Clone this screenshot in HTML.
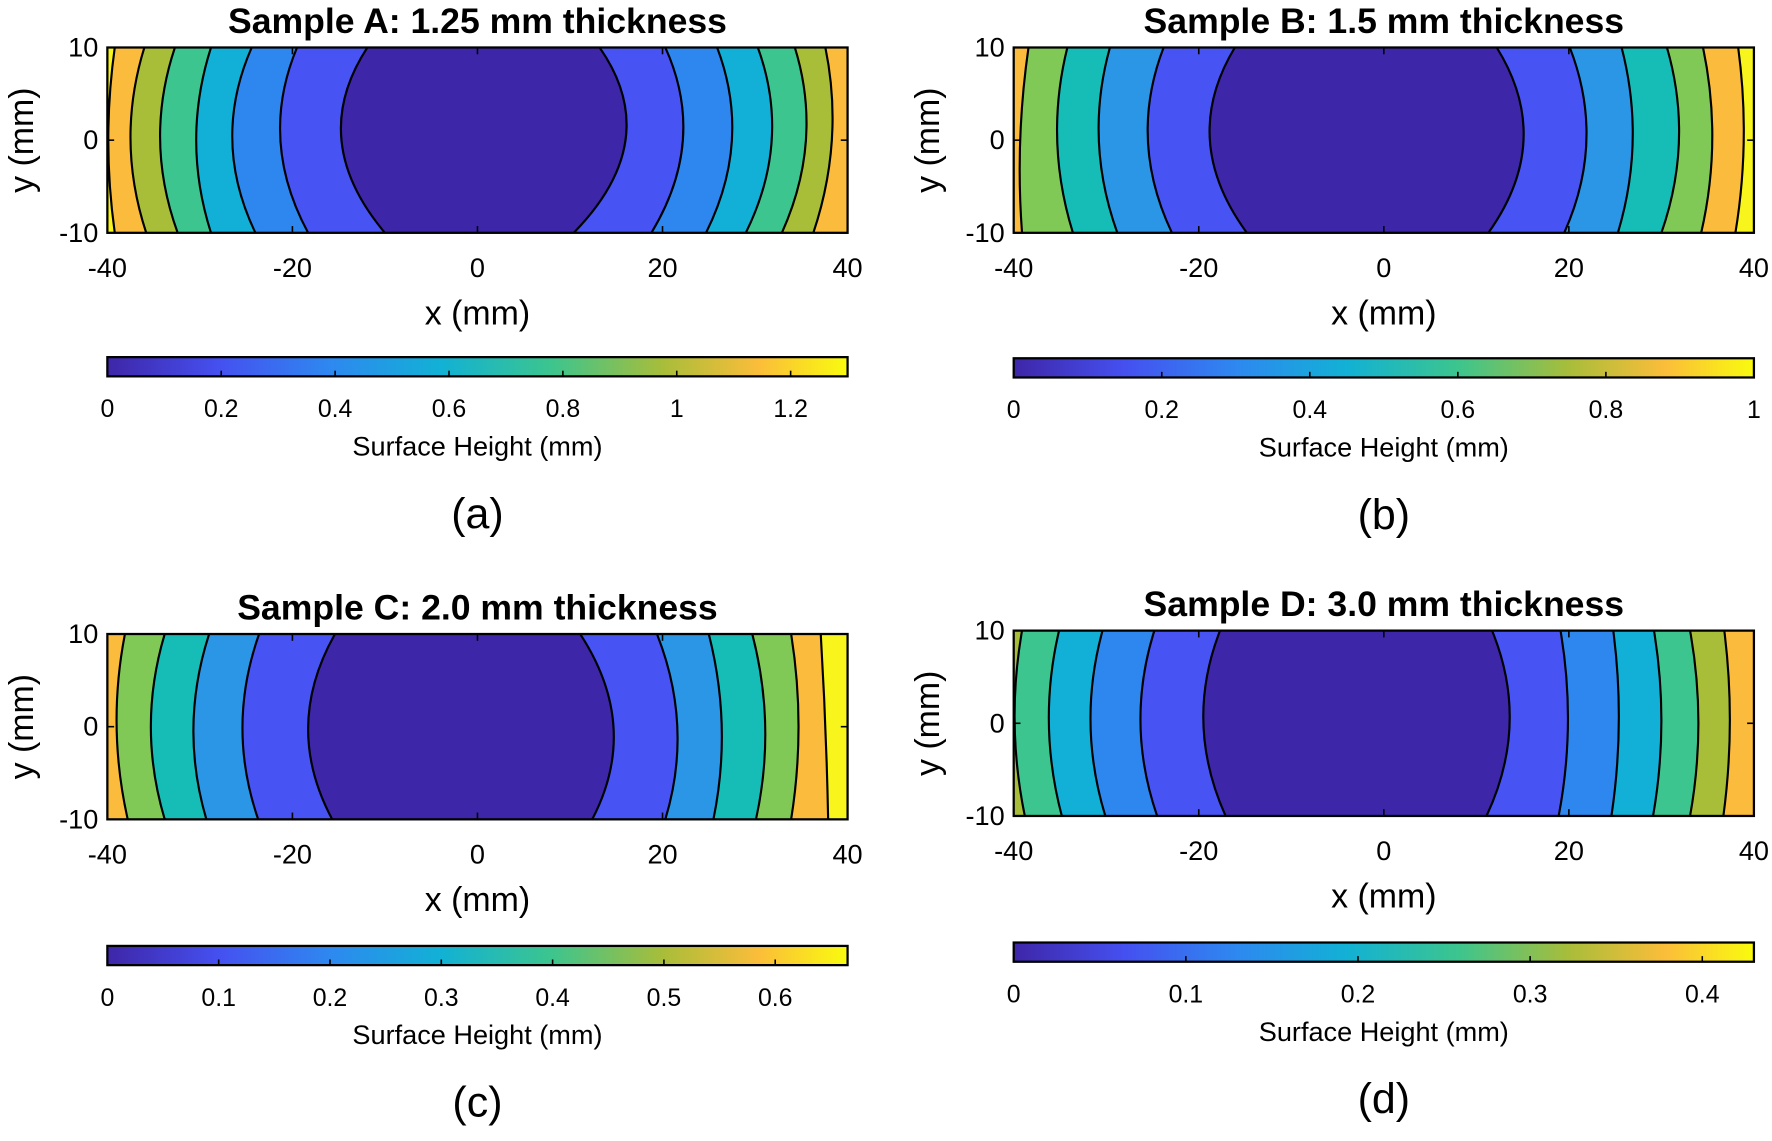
<!DOCTYPE html>
<html><head><meta charset="utf-8"><style>
html,body{margin:0;padding:0;background:#fff;}
svg{display:block;font-family:"Liberation Sans",Arial,sans-serif;}
</style></head><body>
<svg id="fig" width="1772" height="1141" viewBox="0 0 1568 1009.6" xmlns="http://www.w3.org/2000/svg">
<defs>
<linearGradient id="parula" x1="0" x2="1" y1="0" y2="0">
<stop offset="0" stop-color="#3e26a8"/><stop offset="0.15" stop-color="#4550f0"/><stop offset="0.3" stop-color="#2e88f0"/><stop offset="0.45" stop-color="#12b1d5"/><stop offset="0.6" stop-color="#3cc58e"/><stop offset="0.75" stop-color="#a8bd3a"/><stop offset="0.88" stop-color="#fbbd3a"/><stop offset="1" stop-color="#f9fb0e"/>
</linearGradient>
</defs>
</svg>
<script>
// Panel A contour boundaries (x in mm at y=+10, y=0, y=-10), left to right
const aTop=[-39.2,-36,-32.7,-28.8,-24.4,-19.5,-11.9,13.2,20.3,25.9,30.3,34.3,37.6];
const aMid=[-39.9,-37.5,-34.3,-30.4,-26.5,-21.3,-14.7,16,22.2,27.5,31.8,35.5,38.3];
const aBot=[-39.2,-35.8,-32.4,-28.8,-24,-18.3,-10,10.4,18.8,24.7,29,32.9,36.3];
const aBands=["yellow","orange","olive","green","cyan","lb","blue","dark","blue","lb","cyan","green","olive","orange"];
const aCbTicks=[0,0.2,0.4,0.6,0.8,1,1.2];
const aCbMax=1.3;
// Panel B
const bTop=[-38.4,-34.2,-29.6,-23.8,-16.1,12.2,20.1,25.7,30.6,34.5,38.3];
const bMid=[-39.3,-35.3,-30.8,-25.5,-18.8,15.1,21.9,26.9,31.9,35.5,38.9];
const bBot=[-39.1,-33.6,-28.8,-22.9,-14.8,11.3,19.5,25.3,30,34.3,38];
const bBands=["orange","lgreen","teal","sky","blue","dark","blue","sky","teal","lgreen","orange","yellow"];
const bCbTicks=[0,0.2,0.4,0.6,0.8,1];
const bCbMax=1.0;
// Panel C
const cTop=[-38.1,-33.8,-29,-23.6,-15.4,11.1,19.4,25,29.7,33.9,37.1];
const cMid=[-39,-35.3,-30.7,-25.4,-18.3,14.7,21.6,26.4,31.1,34.7,37.6];
const cBot=[-37.8,-33.8,-29.3,-23.7,-15.7,12.4,20.3,25.5,30.1,33.9,37.9];
const cBands=["orange","lgreen","teal","sky","blue","dark","blue","sky","teal","lgreen","orange","yellow"];
const cCbTicks=[0,0.1,0.2,0.3,0.4,0.5,0.6];
const cCbMax=0.665;
// Panel D
const dTop=[-39.1,-35.1,-30.4,-24.8,-17.7,11.7,19.1,24.8,29.2,33.1,36.8];
const dMid=[-39.9,-36.2,-31.7,-26.3,-19.5,13.6,19.9,25.4,30,34,37.4];
const dBot=[-38.8,-34.8,-30.1,-24.5,-17.1,11.1,18.9,24.6,29.1,33.1,36.7];
const dBands=["olive","green","cyan","lb","blue","dark","blue","lb","cyan","green","olive","orange"];
const dCbTicks=[0,0.1,0.2,0.3,0.4];
const dCbMax=0.43;
const xTicks=[-40,-20,0,20,40];
const yTicks=[10,0,-10];

const COL={dark:"#3e26a8",blue:"#4753f2",lb:"#2e87ef",sky:"#2b95e6",cyan:"#12b0d6",teal:"#16bcb6",green:"#3cc58f",lgreen:"#80c956",olive:"#a8bd38",orange:"#fbbb3c",yellow:"#f7f51c"};
const NS="http://www.w3.org/2000/svg";
const svg=document.getElementById('fig');
function mk(tag,attrs,parent){const e=document.createElementNS(NS,tag);for(const k in attrs)e.setAttribute(k,attrs[k]);(parent||svg).appendChild(e);return e;}
function txt(s,x,y,size,opts,parent){const t=mk('text',Object.assign({x:x,y:y,'font-size':size,'text-anchor':'middle',fill:'#000'},opts||{}),parent);t.textContent=s;return t;}

function panel(id,P){
  const g=mk('g',{});
  
  
  const X0=P.x0,X1=P.x0+655,Y0=P.y0,Y1=P.y0+164;
  const sx=v=>X0+(v+40)/80*(X1-X0);
  const sy=v=>Y0+(10-v)/20*(Y1-Y0);
  const clip=mk('clipPath',{id:'clip'+id},g);
  mk('rect',{x:X0,y:Y0,width:X1-X0,height:Y1-Y0},clip);
  const plot=mk('g',{'clip-path':'url(#clip'+id+')'},g);
  
  
  const n=P.top.length;
  const tops=[-40.5].concat(P.top,[40.5]), mids=[-40.5].concat(P.mid,[40.5]), bots=[-40.5].concat(P.bot,[40.5]);
  function curve(i,down){
    const t=sx(tops[i]),m=sx(mids[i]),b=sx(bots[i]);
    const c=2*m-(t+b)/2;
    return down?`${t},${sy(10.5)} L${t},${sy(10)} Q${c},${sy(0)} ${b},${sy(-10)} L${b},${sy(-10.5)}`
               :`${b},${sy(-10.5)} L${b},${sy(-10)} Q${c},${sy(0)} ${t},${sy(10)} L${t},${sy(10.5)}`;
  }
  for(let i=0;i<=n;i++){
    const r=mk('path',{d:`M${curve(i,true)} L${curve(i+1,false)} Z`,fill:COL[P.bands[i]],stroke:COL[P.bands[i]],'stroke-width':0.6},plot);
    
    
  }
  for(let i=1;i<=n;i++){
    const t=sx(tops[i]),m=sx(mids[i]),b=sx(bots[i]);const c=2*m-(t+b)/2;
    const l=mk('path',{d:`M${t},${sy(10)} Q${c},${sy(0)} ${b},${sy(-10)}`,fill:'none',stroke:'#000','stroke-width':1.9},plot);
    
    
  }
  const fr=mk('rect',{x:X0,y:Y0,width:X1-X0,height:Y1-Y0,fill:'none',stroke:'#000','stroke-width':2},g);
  
  
  xTicks.forEach(v=>{
    mk('line',{x1:sx(v),x2:sx(v),y1:Y1,y2:Y1-6,stroke:'#000','stroke-width':1.4},g);
    mk('line',{x1:sx(v),x2:sx(v),y1:Y0,y2:Y0+6,stroke:'#000','stroke-width':1.4},g);
    const t=txt(String(v),sx(v),Y1+39,24,{},g);
    
    
  });
  yTicks.forEach(v=>{
    mk('line',{x1:X0,x2:X0+6,y1:sy(v),y2:sy(v),stroke:'#000','stroke-width':1.4},g);
    mk('line',{x1:X1,x2:X1-6,y1:sy(v),y2:sy(v),stroke:'#000','stroke-width':1.4},g);
    const t=txt(String(v),X0-8,sy(v)+8,24,{'text-anchor':'end'},g);
    
    
  });
  const ti=txt(P.title,(X0+X1)/2,Y0-13,31.5,{'font-weight':'bold'},g);
  
  
  const xl=txt('x (mm)',(X0+X1)/2,Y1+81,30,{},g);
  
  
  const yl=txt('y (mm)',0,0,30,{transform:`translate(${X0-66},${(Y0+Y1)/2}) rotate(-90)`},g);
  
  
  // colorbar
  const CY=P.cby,CH=17;
  const cb=mk('rect',{x:X0,y:CY,width:X1-X0,height:CH,fill:'url(#parula)',stroke:'#000','stroke-width':2},g);
  
  
  const cx=v=>X0+v/P.cbMax*(X1-X0);
  P.cbTicks.forEach(v=>{
    mk('line',{x1:cx(v),x2:cx(v),y1:CY+CH,y2:CY+CH-5,stroke:'#000','stroke-width':1.4},g);
    const t=txt(String(v),cx(v),CY+CH+36,22,{},g);
    
    
  });
  const cl=txt('Surface Height (mm)',(X0+X1)/2,CY+CH+70,24,{},g);
  
  
  const pl=txt('('+id+')',(X0+X1)/2,CY+CH+134,38,{},g);
  
  
}
panel('a',{x0:95,y0:42,cby:316,title:'Sample A: 1.25 mm thickness',top:aTop,mid:aMid,bot:aBot,bands:aBands,cbTicks:aCbTicks,cbMax:aCbMax});
panel('b',{x0:897,y0:42,cby:317,title:'Sample B: 1.5 mm thickness',top:bTop,mid:bMid,bot:bBot,bands:bBands,cbTicks:bCbTicks,cbMax:bCbMax});
panel('c',{x0:95,y0:561,cby:837,title:'Sample C: 2.0 mm thickness',top:cTop,mid:cMid,bot:cBot,bands:cBands,cbTicks:cCbTicks,cbMax:cCbMax});
panel('d',{x0:897,y0:558,cby:834,title:'Sample D: 3.0 mm thickness',top:dTop,mid:dMid,bot:dBot,bands:dBands,cbTicks:dCbTicks,cbMax:dCbMax});
</script>
</body></html>
